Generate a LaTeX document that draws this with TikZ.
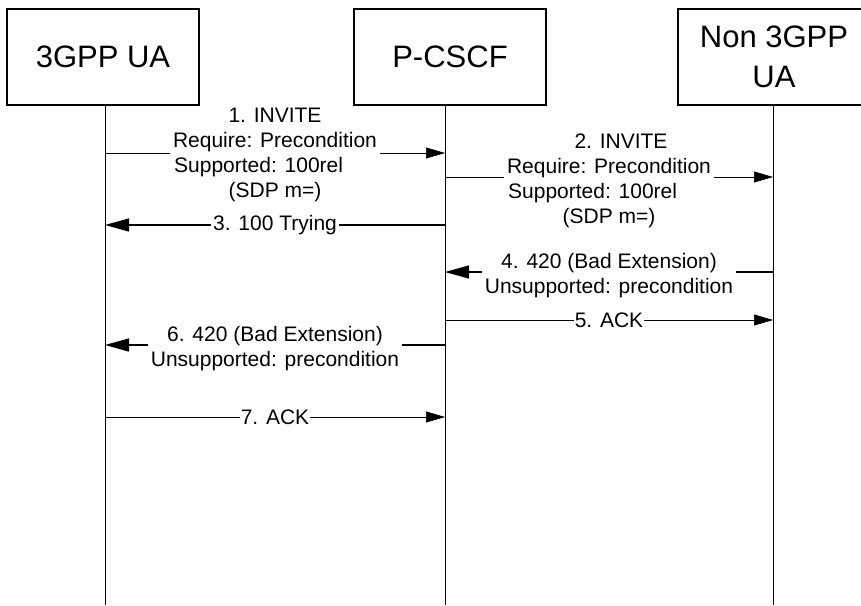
\documentclass[tikz,border=0pt]{standalone}
\usepackage{fontspec}
\setmainfont{Liberation Sans}
\usetikzlibrary{arrows.meta}

\newcommand{\lftline}[1]{\makebox[9.6em][l]{#1}}

\begin{document}
\begin{tikzpicture}[x=1pt, y=-1pt,
	entity/.style={draw, line width=1.2pt, minimum width=192pt, minimum height=96pt,
		align=center, font=\fontsize{31}{40}\selectfont},
	life/.style={line width=1pt},
	msg/.style={line width=0.6pt, -{Triangle[length=19pt, width=11pt]}},
	msgbold/.style={line width=1.3pt, -{Triangle[length=24pt, width=13pt]}},
	lbl/.style={fill=white, inner xsep=3pt, inner ysep=0pt, align=center,
		font=\fontsize{21}{25}\selectfont}]
	\useasboundingbox (0,0) rectangle (861,605);
	\coordinate (uaT) at (105,105);
	\coordinate (uaB) at (105,605);
	\coordinate (pcT) at (445,105);
	\coordinate (pcB) at (445,605);
	\coordinate (nonT) at (773,105);
	\coordinate (nonB) at (773,605);
	\draw[life] (uaT) -- (uaB);
	\draw[life] (pcT) -- (pcB);
	\draw[life] (nonT) -- (nonB);
	% messages
	\draw[msg] (uaT |- 0,153) -- node[lbl, yshift=-2pt] (m1)
		{1. INVITE\\Require: Precondition\\\lftline{Supported: 100rel}\\(SDP m=)} (pcT |- 0,153);
	\draw[msg] (pcT |- 0,177) -- node[lbl, yshift=-4pt] (m2)
		{\hspace*{24pt}2. INVITE\\Require: Precondition\\\lftline{Supported: 100rel}\\(SDP m=)} (nonT |- 0,177);
	\draw[msgbold] (pcT |- 0,225) -- node[lbl, inner xsep=2pt] (m3) {3. 100 Trying} (uaT |- 0,225);
	\draw[msgbold] (nonT |- 0,272) -- node[lbl, yshift=-4pt] (m4)
		{4. 420 (Bad Extension)\\Unsupported: precondition} (pcT |- 0,272);
	\draw[msg] (pcT |- 0,320) -- node[lbl, inner xsep=1pt] (m5) {5. ACK} (nonT |- 0,320);
	\draw[msgbold] (pcT |- 0,345) -- node[lbl, yshift=-4pt] (m6)
		{6. 420 (Bad Extension)\\Unsupported: precondition} (uaT |- 0,345);
	\draw[msg] (uaT |- 0,417) -- node[lbl, inner xsep=1pt] (m7) {7. ACK} (pcT |- 0,417);
	% entities
	\node[entity] (ua) at (103,57) {3GPP UA};
	\node[entity] (pcscf) at (450,57) {P-CSCF};
	\node[entity] (nonua) at (774,57) {Non 3GPP\\UA};
\end{tikzpicture}
\end{document}
